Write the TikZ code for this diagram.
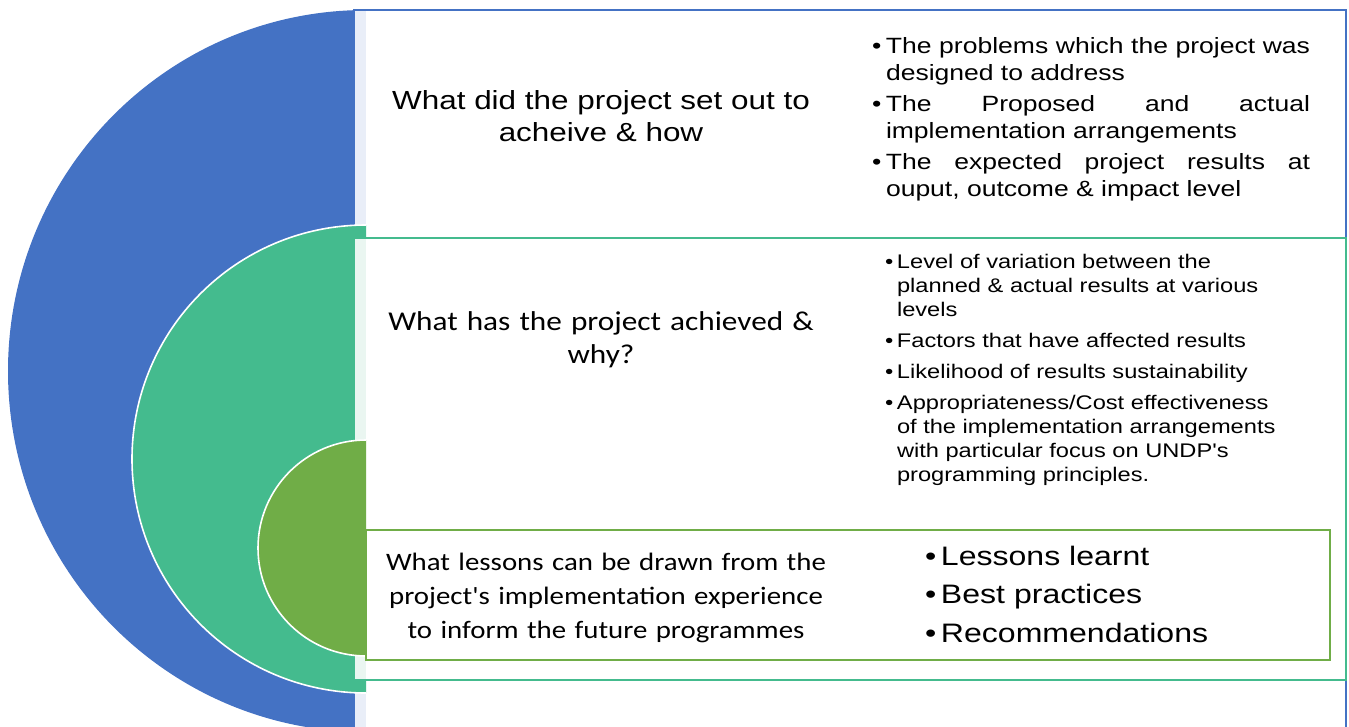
\documentclass[tikz,border=0pt]{standalone}
\usepackage{fontspec}
\newfontfamily\arialf[FakeStretch=1.2]{Liberation Sans}
\newfontfamily\calif[FakeStretch=1.15]{Carlito}
\definecolor{tgblue}{HTML}{4472C4}
\definecolor{tggreen}{HTML}{44BB8E}
\definecolor{tgolive}{HTML}{70AD47}
\definecolor{tgbluetint}{HTML}{E9EEF8}
\definecolor{tggreentint}{HTML}{EAF6F1}
% bullet paragraph with hanging indent: #1 = indent, #2 = text
\newcommand\bitem[2]{\hangindent=#1\hangafter=1\makebox[#1][l]{•}#2}
\tikzset{
  txt/.style={inner sep=0pt, outer sep=0pt, text=black},
  ring/.style={draw=white, line width=1.6pt},
}
\begin{document}
\begin{tikzpicture}[x=1pt,y=-1pt]
\useasboundingbox (0,0) rectangle (1349,726);
\clip (0,0) rectangle (1349,726);

% outer level: blue half disc and its panel
\fill[tgblue] (366,10) arc[start angle=90,end angle=270,x radius=358pt,y radius=361pt] -- cycle;
\fill[white] (354,10) rectangle (1346,740);
\fill[tgbluetint] (354,10) rectangle (366,740);
\draw[tgblue, line width=1.4pt] (354,10) rectangle (1346,740);

% middle level: green half disc and its panel
\fill[tggreen] (366,225) arc[start angle=90,end angle=270,radius=234pt] -- cycle;
\draw[ring] (366,225) arc[start angle=90,end angle=270,radius=234pt];
\fill[white] (354,238) rectangle (1346,680);
\fill[tggreentint] (354,238) rectangle (366,680);
\draw[tggreen, line width=1.8pt] (354,238) rectangle (1346,680);

% inner level: olive half disc and its panel
\fill[tgolive] (366,440) arc[start angle=90,end angle=270,radius=108pt] -- cycle;
\draw[ring] (366,440) arc[start angle=90,end angle=270,radius=108pt];
\draw[tgolive, line width=2pt, fill=white] (366,530) rectangle (1330,660);

% level titles
\node[txt, text width=520pt, align=center, anchor=base,
      font=\arialf\fontsize{26.2}{32.5}\selectfont] (q1) at (601,109)
  {What did the project set out to\\acheive \& how};
\node[txt, text width=520pt, align=center, anchor=base,
      font=\calif\fontsize{27.2}{33}\selectfont] (q2) at (601,330)
  {What has the project achieved \&\\why?};
\node[txt, text width=520pt, align=center, anchor=base,
      font=\calif\fontsize{25.1}{34}\selectfont] (q3) at (606,570)
  {What lessons can be drawn from the\\project's implementation experience\\to inform the future programmes};

% level details
\node[txt, text width=438pt, align=justify, anchor=base west,
      font=\arialf\fontsize{22.1}{27}\selectfont] (d1) at (872,53)
  {\setlength\parskip{4pt}%
   \bitem{14pt}{The problems which the project was\linebreak designed to address}\par
   \bitem{14pt}{The Proposed and actual\linebreak implementation arrangements}\par
   \bitem{14pt}{The expected project results at\linebreak ouput, outcome \& impact level}\par};
\node[txt, text width=440pt, align=left, anchor=base west,
      font=\arialf\fontsize{19.7}{24}\selectfont] (d2) at (885,268)
  {\setlength\parskip{7pt}%
   \bitem{12pt}{Level of variation between the\newline planned \& actual results at various\newline levels}\par
   \bitem{12pt}{Factors that have affected results}\par
   \bitem{12pt}{Likelihood of results sustainability}\par
   \bitem{12pt}{Appropriateness/Cost effectiveness\newline of the implementation arrangements\newline with particular focus on UNDP's\newline programming principles.}\par};
\node[txt, text width=380pt, align=left, anchor=base west,
      font=\arialf\fontsize{26.7}{38.5}\selectfont] (d3) at (925,565)
  {\bitem{16pt}{Lessons learnt}\par
   \bitem{16pt}{Best practices}\par
   \bitem{16pt}{Recommendations}\par};
\end{tikzpicture}
\end{document}
